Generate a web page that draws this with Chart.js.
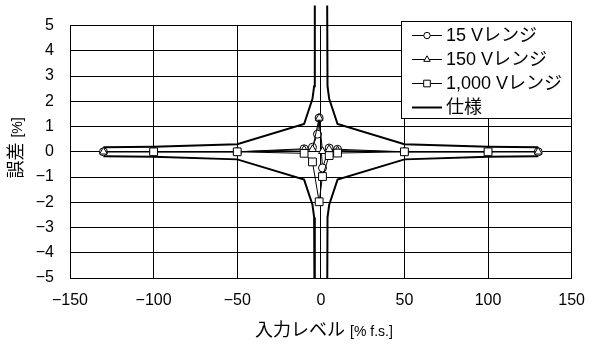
<!DOCTYPE html>
<html>
<head>
<meta charset="utf-8">
<script src="https://cdn.jsdelivr.net/npm/chart.js@4.4.1/dist/chart.umd.min.js"></script>
<style>
  html, body { margin: 0; padding: 0; background: #fff; }
  #wrap { width: 598px; height: 345px; }
</style>
</head>
<body>
<div id="wrap"><canvas id="errChart" width="598" height="345"></canvas></div>
<script>
// tick labels
var xTicks = [-150, -100, -50, 0, 50, 100, 150];
var yTicks = [-5, -4, -3, -2, -1, 0, 1, 2, 3, 4, 5];

// 15 V range (circles)
var r15X = [-130, -100, -50, -10, -5, -2, -1, 1, 5, 10, 50, 100, 130];
var r15Y = [0, 0, 0, 0.12, 0.18, 0.7, 1.34, -0.64, 0.15, 0.1, 0, 0, 0];
// 150 V range (triangles)
var r150X = [-130, -100, -50, -10, -5, -1, 1, 5, 10, 50, 100, 130];
var r150Y = [0, 0, 0, 0.08, 0.1, 1.34, 0.02, 0.1, 0.05, 0, 0, 0];
// 1,000 V range (squares)
var r1000X = [-100, -50, -10, -5, -1, 1, 5, 10, 50, 100];
var r1000Y = [0, 0, -0.06, -0.4, -1.98, -0.98, -0.15, -0.05, 0, 0];
// spec limit (仕様), magnitude at each |input level|
var specX = [130, 100, 50, 10, 5, 4, 3.6];
var specY = [0.18, 0.2, 0.3, 1.1, 2.1, 2.6, 9];

var labels = ["15 Vレンジ", "150 Vレンジ", "1,000 Vレンジ", "仕様"];
var FONT = "'Liberation Sans', 'Noto Sans CJK JP', sans-serif";

function pts(xs, ys) {
  return xs.map(function(x, i) { return { x: x, y: ys[i] }; });
}

// four limit branches, split by null gaps
function specPts() {
  var out = [];
  var sides = [[-1, 1], [1, 1], [-1, -1], [1, -1]];
  sides.forEach(function(s, k) {
    var seg = specX.map(function(x, i) { return { x: s[0] * x, y: s[1] * specY[i] }; });
    if (s[0] > 0) seg.reverse();
    if (k > 0) out.push({ x: 0, y: null });
    out = out.concat(seg);
  });
  return out;
}

function minus(v) { return String(v).replace("-", "\u2212"); }

var markerStyles = ["circle", "triangle", "rect"];
var markerRadius = [4, 4.5, 5.5];

var legendBox = {
  id: "legendBox",
  afterDraw: function(chart) {
    var ctx = chart.ctx;
    ctx.save();
    var bx = 401.5, by = 21.5, bw = 170, bh = 97;
    ctx.fillStyle = "#fff";
    ctx.fillRect(bx, by, bw, bh);
    ctx.strokeStyle = "#000";
    ctx.lineWidth = 1;
    ctx.strokeRect(bx, by, bw, bh);
    var rows = [35, 59, 83, 107];
    ctx.font = "18px " + FONT;
    ctx.textBaseline = "middle";
    rows.forEach(function(ry, i) {
      ctx.strokeStyle = "#000";
      ctx.lineWidth = i === 3 ? 2 : 1;
      ctx.beginPath();
      ctx.moveTo(412, ry + 0.5);
      ctx.lineTo(442, ry + 0.5);
      ctx.stroke();
      if (i < 3) {
        ctx.fillStyle = "#fff";
        ctx.lineWidth = 1;
        Chart.helpers.drawPoint(ctx, { pointStyle: markerStyles[i], radius: markerRadius[i] - 0.8, borderWidth: 1, rotation: 0 }, 427, ry + 0.5);
      }
      ctx.fillStyle = "#000";
      ctx.font = "18px " + FONT;
      ctx.fillText(labels[i], 446, ry + 1);
    });

    // axis titles, unit part in a smaller size
    ctx.textAlign = "left";
    ctx.textBaseline = "middle";
    var t1 = "入力レベル ", t2 = "[% f.s.]";
    ctx.font = "18px " + FONT;
    var w1 = ctx.measureText(t1).width;
    ctx.font = "14px " + FONT;
    var w2 = ctx.measureText(t2).width;
    var sx = 324 - (w1 + w2) / 2;
    ctx.font = "18px " + FONT;
    ctx.fillText(t1, sx, 331);
    ctx.font = "14px " + FONT;
    ctx.fillText(t2, sx + w1, 332);

    ctx.translate(17, 148);
    ctx.rotate(-Math.PI / 2);
    var y1 = "誤差 ", y2 = "[%]";
    ctx.font = "18px " + FONT;
    var yw1 = ctx.measureText(y1).width;
    ctx.font = "14px " + FONT;
    var yw2 = ctx.measureText(y2).width;
    var ys = -(yw1 + yw2) / 2;
    ctx.font = "18px " + FONT;
    ctx.fillText(y1, ys, 0);
    ctx.font = "14px " + FONT;
    ctx.fillText(y2, ys + yw1, 1);
    ctx.restore();
  }
};

function dataSet(i, xs, ys) {
  return {
    label: labels[i],
    data: pts(xs, ys),
    showLine: true,
    borderColor: "#000",
    borderWidth: 1,
    backgroundColor: "#fff",
    pointStyle: markerStyles[i],
    pointRadius: markerRadius[i],
    pointBorderWidth: 1,
    pointBorderColor: "#000",
    pointBackgroundColor: "#fff",
    order: 3 - i
  };
}

new Chart(document.getElementById("errChart"), {
  type: "scatter",
  data: {
    datasets: [
      {
        label: labels[3],
        data: specPts(),
        showLine: true,
        spanGaps: false,
        borderColor: "#000",
        borderWidth: 2,
        pointRadius: 0,
        clip: { left: 0, top: 20, right: 0, bottom: 0 },
        order: 10
      },
      dataSet(2, r1000X, r1000Y),
      dataSet(1, r150X, r150Y),
      dataSet(0, r15X, r15Y)
    ]
  },
  options: {
    responsive: false,
    animation: false,
    events: [],
    layout: { padding: { top: 17, right: 19, left: 0, bottom: 0 } },
    plugins: { legend: { display: false }, tooltip: { enabled: false } },
    scales: {
      x: {
        type: "linear",
        min: -150, max: 150,
        afterBuildTicks: function(s) { s.ticks = xTicks.map(function(v) { return { value: v }; }); },
        afterFit: function(s) { s.height = 67; },
        grid: { color: "#000", lineWidth: 1, tickLength: 0, drawTicks: false },
        border: { color: "#000", width: 1 },
        ticks: { color: "#000", padding: 13, maxRotation: 0, font: { family: FONT, size: 16 }, callback: function(v) { return minus(v); } }
      },
      y: {
        type: "linear",
        min: -5, max: 5,
        afterBuildTicks: function(s) { s.ticks = yTicks.map(function(v) { return { value: v }; }); },
        afterFit: function(s) { s.width = 70; },
        grid: { color: "#000", lineWidth: 1, tickLength: 0, drawTicks: false },
        border: { color: "#000", width: 1 },
        ticks: { color: "#000", padding: 16, font: { family: FONT, size: 16 }, callback: function(v) { return minus(v); } }
      }
    }
  },
  plugins: [legendBox]
});
</script>
</body>
</html>
